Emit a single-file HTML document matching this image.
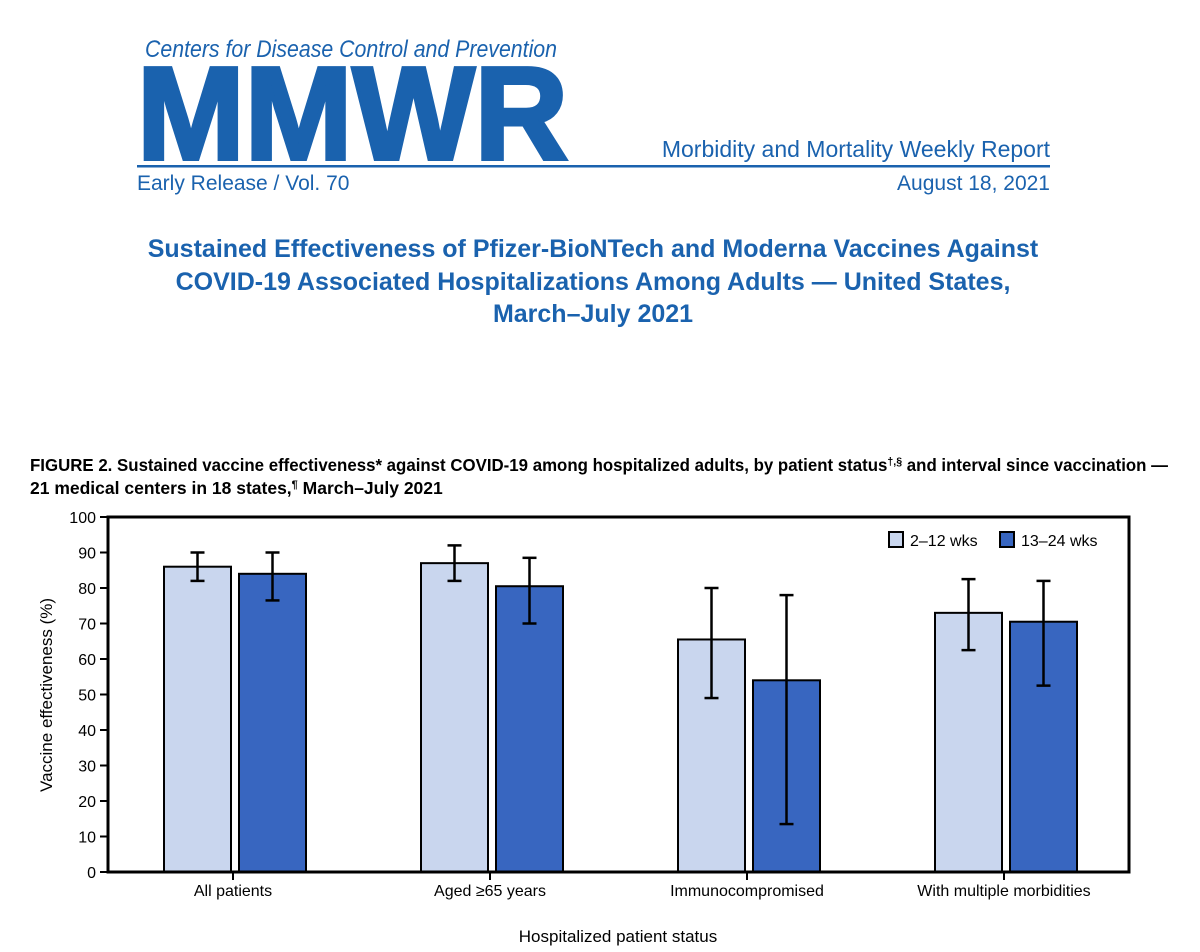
<!DOCTYPE html>
<html><head><meta charset="utf-8"><style>
body{margin:0;background:#fff;width:1200px;height:952px;overflow:hidden}
svg{display:block;font-family:"Liberation Sans",sans-serif}
</style></head><body>
<svg width="1200" height="952" viewBox="0 0 1200 952">
<g fill="#1a62ae">
<text x="145" y="57" font-size="24" font-style="italic" textLength="412" lengthAdjust="spacingAndGlyphs">Centers for Disease Control and Prevention</text>
<text x="137" y="159" font-size="132" font-weight="bold" stroke="#1a62ae" stroke-width="4" textLength="431" lengthAdjust="spacingAndGlyphs">MMWR</text>
<text x="1050" y="157" font-size="23" text-anchor="end">Morbidity and Mortality Weekly Report</text>
<rect x="137" y="165" width="913" height="2.5"/>
<text x="137" y="190" font-size="21">Early Release / Vol. 70</text>
<text x="1050" y="190" font-size="21" text-anchor="end">August 18, 2021</text>
<g font-size="25" font-weight="bold" text-anchor="middle">
<text x="593" y="257">Sustained Effectiveness of Pfizer-BioNTech and Moderna Vaccines Against</text>
<text x="593" y="290">COVID-19 Associated Hospitalizations Among Adults — United States,</text>
<text x="593" y="322">March–July 2021</text>
</g>
</g>
<g font-size="17.5" font-weight="bold" fill="#000">
<text x="30" y="471" textLength="1138" lengthAdjust="spacingAndGlyphs">FIGURE 2. Sustained vaccine effectiveness* against COVID-19 among hospitalized adults, by patient status<tspan dy="-6" font-size="11">†,§</tspan><tspan dy="6"> and interval since vaccination —</tspan></text>
<text x="30" y="494">21 medical centers in 18 states,<tspan dy="-6" font-size="11">¶</tspan><tspan dy="6"> March–July 2021</tspan></text>
</g>
<g id="chart"></g>
</svg>
<script>
const categories=["All patients","Aged ≥65 years","Immunocompromised","With multiple morbidities"];
const seriesNames=["2–12 wks","13–24 wks"];
const ve1=[86,87,65.5,73];
const lo1=[82,82,49,62.5];
const hi1=[90,92,80,82.5];
const ve2=[84,80.5,54,70.5];
const lo2=[76.5,70,13.5,52.5];
const hi2=[90,88.5,78,82];
const yTicks=[0,10,20,30,40,50,60,70,80,90,100];
const colors=["#c9d6ee","#3866c0"];
const NS="http://www.w3.org/2000/svg";
const g=document.getElementById('chart');
const L=108,R=1129,T=517,B=872;
const y=v=>B-(v/100)*(B-T);
const cx=i=>233+i*257;
function mk(tag,a,parent){const e=document.createElementNS(NS,tag);for(const k in a)e.setAttribute(k,a[k]);(parent||g).appendChild(e);return e;}
let t;
yTicks.forEach(v=>{
 t=mk('line',{x1:L-8,x2:L,y1:y(v),y2:y(v),stroke:'#000','stroke-width':2});
 
 
 t=mk('text',{x:L-12,y:y(v)+6,'font-size':16,'text-anchor':'end'});t.textContent=v;
 
 
});
const series=[[ve1,lo1,hi1],[ve2,lo2,hi2]];
categories.forEach((c,i)=>{
 series.forEach((s,j)=>{
  const x0=cx(i)+(j===0?-69:6);
  t=mk('rect',{x:x0,y:y(s[0][i]),width:67,height:B-y(s[0][i]),fill:colors[j],stroke:'#000','stroke-width':2});
  
  
  const m=x0+33.5;
  const eb=mk('g',{stroke:'#000','stroke-width':2.5});
  
  
  mk('line',{x1:m,x2:m,y1:y(s[1][i]),y2:y(s[2][i])},eb);
  mk('line',{x1:m-7,x2:m+7,y1:y(s[1][i]),y2:y(s[1][i])},eb);
  mk('line',{x1:m-7,x2:m+7,y1:y(s[2][i]),y2:y(s[2][i])},eb);
 });
 t=mk('line',{x1:cx(i),x2:cx(i),y1:B,y2:B+8,stroke:'#000','stroke-width':2});
 
 
 t=mk('text',{x:cx(i),y:896,'font-size':16,'text-anchor':'middle'});t.textContent=c;
 
 
});
t=mk('path',{d:`M${L},${B}V${T}H${R}V${B}Z`,fill:'none',stroke:'#000','stroke-width':3});


const lx=[889,1000];
seriesNames.forEach((n,j)=>{
 t=mk('rect',{x:lx[j],y:532,width:14,height:15,fill:colors[j],stroke:'#000','stroke-width':2});
 
 
 t=mk('text',{x:lx[j]+21,y:546,'font-size':16});t.textContent=n;
 
 
});
t=mk('text',{x:0,y:0,'font-size':17,'text-anchor':'middle',transform:'translate(52,695) rotate(-90)'});t.textContent='Vaccine effectiveness (%)';


t=mk('text',{x:618,y:942,'font-size':17,'text-anchor':'middle'});t.textContent='Hospitalized patient status';


</script>
</body></html>
